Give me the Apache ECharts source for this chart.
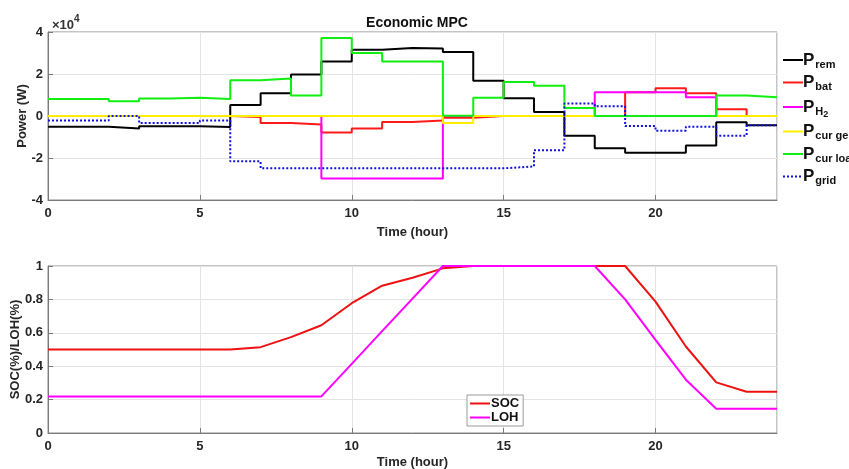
<!DOCTYPE html>
<html>
<head>
<meta charset="utf-8">
<script src="https://cdn.jsdelivr.net/npm/echarts@6/dist/echarts.min.js"></script>
<style>
html,body{margin:0;padding:0;background:#fff;}
#c{width:849px;height:469px;}
</style>
</head>
<body>
<div id="c"></div>
<script>
// ---- data ----
const hours = [0,1,2,3,4,5,6,7,8,9,10,11,12,13,14,15,16,17,18,19,20,21,22,23,24];
const xTicks = [0,5,10,15,20];
// power (W), one value per hour interval [h, h+1)
const pRem     = [-5100,-5100,-6000,-4900,-4900,-5200,5200,10800,19800,26000,31600,32400,32200,30500,16800,8400,1900,-9400,-15400,-17500,-17500,-14000,-3000,-4400];
const pBat     = [0,0,0,0,0,0,-500,-3300,-4000,-7900,-6000,-2900,-2200,-800,0,0,0,0,0,11300,13200,10800,3200,0];
const pH2      = [0,0,0,0,0,0,0,0,0,-29800,-29800,-29800,-29800,0,0,0,0,0,11300,11300,11300,8900,0,0];
const pCurGen  = [0,0,0,0,0,0,0,0,0,0,0,0,0,-3300,0,0,0,0,0,0,0,0,0,0];
const pCurLoad = [8100,8100,7000,8300,8700,8100,17000,17800,9800,37100,30000,25900,25900,100,8700,16200,14400,3800,0,0,0,0,9800,8900];
const pGrid    = [-2100,-2100,0,-3300,-3300,-2100,-21600,-24900,-24900,-24900,-24900,-24900,-24900,-24900,-24900,-24000,-16300,5900,4600,-4800,-7000,-5100,-9400,-4400];
// state of charge / level of hydrogen at each hour 0..24
const soc = [0.5,0.5,0.5,0.5,0.5,0.5,0.5,0.514,0.574,0.645,0.777,0.882,0.93,0.986,1,1,1,1,1,1,0.787,0.518,0.303,0.247,0.247];
const loh = [0.219,0.219,0.219,0.219,0.219,0.219,0.219,0.219,0.219,0.219,0.414,0.61,0.805,1,1,1,1,1,1,0.8,0.558,0.319,0.145,0.145,0.145];
const powerTicks = [-40000,-20000,0,20000,40000];
const socTicks = [0,0.2,0.4,0.6,0.8,1];

// ---- build ----
function stairs(v){ // points for step 'end' : last value held to 24
  const d = v.map((y,i)=>[hours[i], y]);
  d.push([hours[v.length], v[v.length-1]]);
  return d;
}
function pts(v){ return v.map((y,i)=>[hours[i], y]); }

const FONT = "'Liberation Sans', Arial, Helvetica, sans-serif";
const tickLbl = {color:'#262626', fontSize:13, fontWeight:'bold', fontFamily:FONT};
const axisLineCol = '#7a7a7a';
const gridLine = {show:true, lineStyle:{color:'#e3e3e3', width:1}};
const nameStyle = {color:'#262626', fontSize:13, fontWeight:'bold', fontFamily:FONT};

function xAx(gi){
  return {
    type:'value', gridIndex:gi, min:hours[0], max:hours[hours.length-1], interval:xTicks[1]-xTicks[0],
    name:'Time (hour)', nameLocation:'middle', nameGap: gi===0 ? 26 : 23, nameMoveOverlap:false,
    nameTextStyle:nameStyle,
    axisLine:{show:true, onZero:false, lineStyle:{color:axisLineCol, width:1}},
    axisTick:{show:true, inside:true, length:5, lineStyle:{color:axisLineCol}},
    axisLabel:Object.assign({margin:7, showMaxLabel:false}, tickLbl),
    splitLine:gridLine
  };
}

const subRich = {
  p:{fontSize:17, fontWeight:'bold', fontFamily:FONT, color:'#111', lineHeight:17},
  s:{fontSize:11, fontWeight:'bold', fontFamily:FONT, color:'#111', padding:[9,0,0,1], lineHeight:13},
  ss:{fontSize:9, fontWeight:'bold', fontFamily:FONT, color:'#111', padding:[15,0,0,0], lineHeight:11}
};
const legendLabels = {
  'P_rem':'{p|P}{s|rem}',
  'P_bat':'{p|P}{s|bat}',
  'P_H2':'{p|P}{s|H}{ss|2}',
  'P_cur gen':'{p|P}{s|cur gen}',
  'P_cur load':'{p|P}{s|cur load}',
  'P_grid':'{p|P}{s|grid}'
};

function stepSeries(name, data, color, dotted){
  return {
    name:name, type:'line', xAxisIndex:0, yAxisIndex:0, step:'end',
    data:stairs(data), symbol:'none', animation:false,
    lineStyle:{color:color, width:2, type:dotted?[2,2]:'solid'},
    itemStyle:{color:color}
  };
}

const option = {
  animation:false,
  backgroundColor:'#fff',
  title:[
    {text:'Economic MPC', left:412, top:11, textAlign:'center',
     textStyle:{fontSize:14, fontWeight:'bold', color:'#111', fontFamily:FONT}},
    {text:'{a|×10}{b|4}', left:47, top:8,
     textStyle:{rich:{
       a:{fontSize:13, fontFamily:FONT, color:'#333', padding:[6,0,0,0]},
       b:{fontSize:10, fontFamily:FONT, color:'#333', padding:[0,0,6,0]}
     }}}
  ],
  grid:[
    {left:48, top:32, width:729, height:168, show:true, borderColor:'#8a8a8a', borderWidth:1, backgroundColor:'#fff', outerBoundsMode:'none', containLabel:false},
    {left:48, top:266, width:729, height:167, show:true, borderColor:'#8a8a8a', borderWidth:1, backgroundColor:'#fff', outerBoundsMode:'none', containLabel:false}
  ],
  legend:[
    {data:['P_rem','P_bat','P_H2','P_cur gen','P_cur load','P_grid'],
     orient:'vertical', left:777, top:45, itemGap:2.5, itemWidth:20, itemHeight:10,
     itemStyle:{opacity:0},
     formatter:function(n){return legendLabels[n];},
     textStyle:{rich:subRich, padding:[0,0,0,-5]}, selectedMode:false},
    {data:['SOC','LOH'], orient:'vertical', left:467, top:395, itemGap:1, itemWidth:20, itemHeight:10,
     itemStyle:{opacity:0},
     padding:[2,4,2,2], backgroundColor:'#fff', borderColor:'#9a9a9a', borderWidth:1,
     textStyle:{fontSize:13, fontWeight:'bold', fontFamily:FONT, color:'#111', padding:[0,0,0,-4]},
     selectedMode:false}
  ],
  xAxis:[xAx(0), xAx(1)],
  yAxis:[
    {type:'value', gridIndex:0, min:powerTicks[0], max:powerTicks[powerTicks.length-1], interval:powerTicks[1]-powerTicks[0],
     name:'Power (W)', nameLocation:'middle', nameGap:19, nameMoveOverlap:false,
     nameTextStyle:nameStyle,
     axisLine:{show:true, lineStyle:{color:axisLineCol}},
     axisTick:{show:true, inside:true, length:5, lineStyle:{color:axisLineCol}},
     axisLabel:Object.assign({margin:5, formatter:function(v){return String(v/10000);}}, tickLbl),
     splitLine:gridLine},
    {type:'value', gridIndex:1, min:socTicks[0], max:socTicks[socTicks.length-1], interval:socTicks[1]-socTicks[0],
     name:'SOC(%)/LOH(%)', nameLocation:'middle', nameGap:26, nameMoveOverlap:false,
     nameTextStyle:nameStyle,
     axisLine:{show:true, lineStyle:{color:axisLineCol}},
     axisTick:{show:true, inside:true, length:5, lineStyle:{color:axisLineCol}},
     axisLabel:Object.assign({margin:5, formatter:function(v){return String(Math.round(v*10)/10);}}, tickLbl),
     splitLine:gridLine}
  ],
  series:[
    stepSeries('P_rem', pRem, '#000000'),
    stepSeries('P_bat', pBat, '#ff1a1a'),
    stepSeries('P_H2', pH2, '#ff00ff'),
    stepSeries('P_cur gen', pCurGen, '#ffee00'),
    stepSeries('P_cur load', pCurLoad, '#11ee11'),
    stepSeries('P_grid', pGrid, '#1111dd', true),
    {name:'SOC', type:'line', xAxisIndex:1, yAxisIndex:1, data:pts(soc), symbol:'none',
     lineStyle:{color:'#ee1111', width:2}, itemStyle:{color:'#ee1111'}},
    {name:'LOH', type:'line', xAxisIndex:1, yAxisIndex:1, data:pts(loh), symbol:'none',
     lineStyle:{color:'#ff00ff', width:2}, itemStyle:{color:'#ff00ff'}}
  ]
};
const chart = echarts.init(document.getElementById('c'), null, {renderer:'canvas'});
chart.setOption(option);
</script>
</body>
</html>
